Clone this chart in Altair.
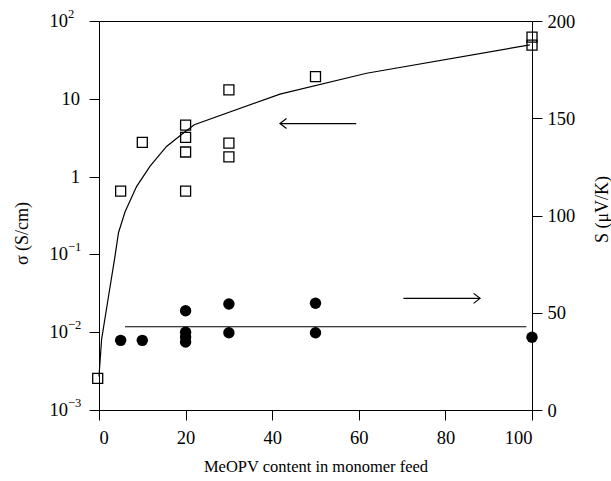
import altair as alt
import pandas as pd

# sigma (S/cm) open squares
sq_x = [-0.3, 5, 10, 20, 20, 20, 20, 30, 30, 30, 50, 100, 100]
sq_sigma = [0.00255, 0.65, 2.75, 4.6, 3.2, 2.07, 0.65, 13, 2.7, 1.79, 19.3, 62, 49]

# S (uV/K) filled circles
ci_x = [5, 10, 20, 20, 20, 20, 30, 30, 50, 50, 100]
ci_S = [35.8, 35.8, 51, 40, 37.5, 35, 54.5, 39.7, 54.9, 39.7, 37.4]

# fitted sigma curve
cv_x = [0, 0.6, 2.2, 3.7, 4.5, 6, 8.7, 11.8, 15.6, 19.5, 22, 41.8, 61.8, 99.5]
cv_sigma = [0.0027, 0.0081, 0.029, 0.095, 0.19, 0.35, 0.75, 1.36, 2.44, 3.63, 4.64, 11.5, 21.3, 49.3]

# mean S line
sl_x = [6, 98.7]
sl_S = [42.8, 42.8]

# arrows
arrL_x = [41.8, 59.4]
arrL_y = [4.8, 4.8]
arrR_x = [70.3, 88]
arrR_y = [57.4, 57.4]

# left (log) axis tick labels
pow_ticks = [0.001, 0.01, 0.1, 100]
pow_base = ["10", "10", "10", "10"]
pow_exp = ["−3", "−2", "−1", "2"]
plain_ticks = [1, 10]
plain_labels = ["1", "10"]
x_ticks = [0, 20, 40, 60, 80, 100]
s_ticks = [0, 50, 100, 150, 200]

FONT = "Liberation Serif"
LBL = 18.5
TTL = 16.5
xscale = alt.Scale(domain=[0, 100], nice=False, zero=False)
yL = alt.Scale(type="log", domain=[0.001, 100], nice=False)
yR = alt.Scale(domain=[0, 200], nice=False, zero=False)

x_axis = alt.Axis(values=x_ticks, title="MeOPV content in monomer feed",
                  labelPadding=8, titlePadding=12)
left_axis = alt.Axis(values=pow_ticks + plain_ticks, title="σ (S/cm)", labels=False,
                     titleFontSize=18, titleX=-77, titleY=212, titleAngle=-90, titleBaseline="middle")
right_axis = alt.Axis(values=s_ticks, title="S (μV/K)", orient="right",
                      titleFontSize=18, labelPadding=5, titleX=70, titleY=188, titleAngle=-90,
                      titleBaseline="middle")

df_sq = pd.DataFrame({"x": sq_x, "y": sq_sigma})
df_cv = pd.DataFrame({"x": cv_x, "y": cv_sigma})
df_aL = pd.DataFrame({"x": arrL_x, "y": arrL_y})
df_ci = pd.DataFrame({"x": ci_x, "y": ci_S})
df_sl = pd.DataFrame({"x": sl_x, "y": sl_S})
df_aR = pd.DataFrame({"x": arrR_x, "y": arrR_y})
df_pow = pd.DataFrame({"y": pow_ticks, "base": pow_base, "exp": pow_exp})
df_plain = pd.DataFrame({"y": plain_ticks, "lab": plain_labels})

X = alt.X("x:Q", scale=xscale, axis=x_axis)
YL = alt.Y("y:Q", scale=yL, axis=left_axis)
YR = alt.Y("y:Q", scale=yR, axis=right_axis)

sq = alt.Chart(df_sq).mark_point(shape="square", size=100, filled=False, color="black",
                                 strokeWidth=1.3, opacity=1).encode(x=X, y=YL)
cv = alt.Chart(df_cv).mark_line(color="black", strokeWidth=1.2).encode(x=X, y=YL)
aL = alt.Chart(df_aL).mark_line(color="black", strokeWidth=1.2).encode(x=X, y=YL)
hL = alt.Chart(df_aL.iloc[[0]]).mark_point(shape="M1.3,-1L0,0L1.3,1", size=100, filled=False,
                                           color="black", strokeWidth=1.2, opacity=1).encode(x=X, y=YL)

lab_base = alt.Chart(df_pow).mark_text(font=FONT, fontSize=LBL, align="right", baseline="middle",
                                       color="black").encode(
    x=alt.value(-31), y=YL, text="base:N")
lab_exp = alt.Chart(df_pow).mark_text(font=FONT, fontSize=12.5, align="left", baseline="middle",
                                      dy=-7, color="black").encode(
    x=alt.value(-31), y=YL, text="exp:N")
lab_plain = alt.Chart(df_plain).mark_text(font=FONT, fontSize=LBL, align="right", baseline="middle",
                                          color="black").encode(
    x=alt.value(-19), y=YL, text="lab:N")

ci = alt.Chart(df_ci).mark_point(shape="circle", size=130, filled=True, color="black", opacity=1).encode(x=X, y=YR)
sl = alt.Chart(df_sl).mark_line(color="black", strokeWidth=1.2).encode(x=X, y=YR)
aR = alt.Chart(df_aR).mark_line(color="black", strokeWidth=1.2).encode(x=X, y=YR)
hR = alt.Chart(df_aR.iloc[[1]]).mark_point(shape="M-1.3,-1L0,0L-1.3,1", size=100, filled=False,
                                           color="black", strokeWidth=1.2, opacity=1).encode(x=X, y=YR)

left = alt.layer(sq, cv, aL, hL, lab_base, lab_exp, lab_plain)
right = alt.layer(ci, sl, aR, hR)

chart = alt.layer(left, right).resolve_scale(y="independent").properties(
    width=433, height=389,
    background="white",
    autosize=alt.AutoSizeParams(type="none"),
    padding={"left": 99, "top": 21, "right": 79, "bottom": 71},
).configure_view(stroke="black", strokeWidth=1).configure_axis(
    grid=False, domainColor="black", tickColor="black", labelColor="black", titleColor="black",
    labelFont=FONT, titleFont=FONT, labelFontSize=LBL, titleFontSize=TTL,
    titleFontWeight="normal", tickSize=10, domainWidth=1, tickWidth=1,
)

chart.save("out.html", embed_options={"renderer": "svg", "actions": False})
